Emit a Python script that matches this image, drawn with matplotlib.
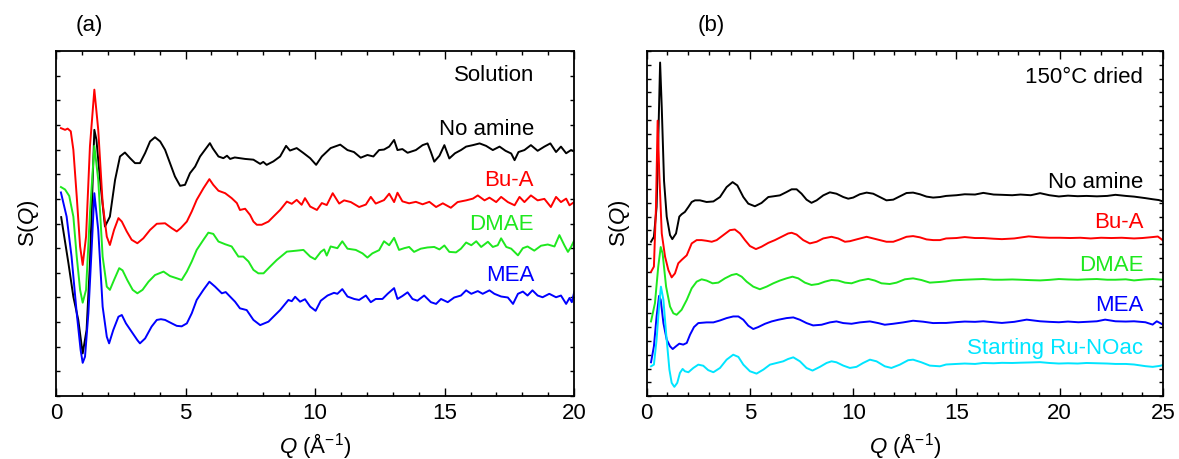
import matplotlib
matplotlib.use("Agg")
import matplotlib.pyplot as plt
from matplotlib.ticker import MultipleLocator, NullFormatter

plt.rcParams['font.family'] = ['Liberation Sans', 'DejaVu Sans']
plt.rcParams['mathtext.fontset'] = 'custom'
plt.rcParams['mathtext.rm'] = 'Liberation Sans'
plt.rcParams['mathtext.it'] = 'Liberation Sans:italic'

# ---------------- Panel (a): Solution ----------------
sol_noamine = [(0.2,7.26),(0.48,5.39),(0.67,4.03),(0.86,3.09),(1.03,1.73),(1.18,2.68),(1.31,5.39),(1.48,10.8),(1.56,10.4),(1.70,8.77),(1.89,6.88),(2.08,7.28),(2.28,8.77),(2.47,9.72),(2.66,9.88),(2.86,9.65),(3.05,9.45),(3.24,9.45),(3.44,9.86),(3.63,10.33),(3.82,10.5),(4.02,10.33),(4.21,9.99),(4.40,9.45),(4.59,8.91),(4.79,8.53),(4.98,8.57),(5.17,9.04),(5.37,9.31),(5.56,9.72),(5.75,9.99),(5.94,10.26),(6.05,10.05),(6.27,9.72),(6.46,9.65),(6.6,9.75),(6.72,9.62),(6.9,9.68),(7.1,9.65),(7.3,9.62),(7.62,9.59),(7.88,9.42),(8.0,9.50),(8.13,9.38),(8.39,9.52),(8.65,9.72),(8.88,10.15),(9.03,9.96),(9.29,10.06),(9.55,9.86),(9.81,9.65),(10.04,9.38),(10.26,9.72),(10.6,10.06),(10.97,10.2),(11.25,9.98),(11.5,9.9),(11.76,9.67),(12.02,9.78),(12.25,9.72),(12.47,9.98),(12.66,10.0),(12.86,10.12),(13.05,10.39),(13.18,9.98),(13.37,10.02),(13.57,9.87),(13.89,9.98),(14.15,10.18),(14.34,10.25),(14.47,9.9),(14.6,9.51),(14.8,9.75),(14.99,10.18),(15.18,9.64),(15.4,9.85),(15.63,9.98),(15.83,10.12),(16.09,10.18),(16.35,10.25),(16.6,10.15),(16.86,9.98),(17.12,10.12),(17.35,9.95),(17.57,9.84),(17.7,9.57),(17.85,9.9),(18.08,9.98),(18.33,10.18),(18.59,9.95),(18.85,10.12),(19.08,10.25),(19.3,9.9),(19.49,10.12),(19.69,9.85),(19.88,9.98),(20.0,9.92)]
sol_bua = [(0.19,10.87),(0.35,10.8),(0.45,10.85),(0.57,10.74),(0.67,9.99),(0.8,8.1),(0.93,6.07),(1.03,5.32),(1.16,6.47),(1.31,10.13),(1.48,12.43),(1.63,10.8),(1.8,7.83),(1.96,6.47),(2.08,6.13),(2.24,6.74),(2.41,7.22),(2.54,7.08),(2.73,6.68),(2.92,6.34),(3.14,6.2),(3.37,6.4),(3.63,6.74),(3.89,6.99),(4.21,7.01),(4.47,6.81),(4.66,6.68),(4.81,6.81),(5.05,7.08),(5.24,7.49),(5.43,7.96),(5.69,8.43),(5.92,8.8),(6.07,8.57),(6.27,8.33),(6.53,8.23),(6.78,8.03),(6.98,7.83),(7.1,7.55),(7.3,7.6),(7.49,7.35),(7.62,7.08),(7.75,6.95),(7.94,6.95),(8.2,7.08),(8.39,7.28),(8.65,7.55),(8.91,7.89),(9.1,7.8),(9.29,7.96),(9.48,7.76),(9.61,8.03),(9.81,7.69),(10.07,7.55),(10.26,7.83),(10.45,7.75),(10.68,8.23),(10.93,7.81),(11.12,7.94),(11.38,7.87),(11.7,7.67),(11.96,7.77),(12.15,8.08),(12.34,7.81),(12.66,7.95),(12.86,8.21),(13.05,7.87),(13.18,8.25),(13.37,7.9),(13.63,7.82),(13.89,7.88),(14.15,7.78),(14.41,7.88),(14.67,7.67),(14.93,7.82),(15.24,7.64),(15.5,7.87),(15.83,7.94),(16.09,8.01),(16.28,8.14),(16.54,7.94),(16.73,8.05),(16.99,7.87),(17.18,8.08),(17.44,7.87),(17.7,7.74),(17.89,8.08),(18.08,7.87),(18.33,8.14),(18.59,7.94),(18.85,8.0),(19.1,7.67),(19.3,8.08),(19.49,7.87),(19.69,8.01),(19.82,7.74),(20.0,7.87)]
sol_dmae = [(0.19,8.48),(0.35,8.38),(0.51,8.12),(0.67,7.28),(0.8,5.66),(0.93,4.31),(1.03,3.79),(1.16,4.31),(1.31,7.42),(1.48,10.15),(1.63,8.77),(1.8,5.66),(1.96,4.44),(2.08,4.31),(2.24,4.71),(2.44,5.19),(2.57,5.1),(2.75,4.71),(2.96,4.31),(3.14,4.17),(3.34,4.31),(3.57,4.64),(3.82,4.91),(4.15,5.05),(4.4,4.87),(4.66,4.78),(4.85,4.71),(5.05,5.05),(5.24,5.46),(5.43,5.93),(5.69,6.34),(5.88,6.63),(6.07,6.58),(6.27,6.27),(6.53,6.16),(6.78,6.07),(7.04,5.66),(7.23,5.66),(7.43,5.46),(7.62,5.12),(7.81,4.98),(8.01,4.98),(8.26,5.25),(8.52,5.52),(8.91,5.86),(9.29,5.9),(9.55,5.93),(9.81,5.66),(10.0,5.55),(10.22,5.85),(10.35,5.95),(10.45,5.7),(10.6,6.07),(10.86,6.0),(11.05,6.28),(11.25,5.98),(11.57,5.93),(11.83,5.79),(12.02,5.62),(12.21,5.79),(12.47,5.92),(12.66,6.28),(12.86,6.12),(13.05,6.42),(13.24,5.93),(13.44,6.0),(13.63,6.05),(13.82,5.85),(14.08,5.98),(14.34,6.03),(14.6,6.05),(14.8,5.95),(14.99,6.11),(15.18,5.85),(15.44,5.83),(15.63,5.98),(15.83,6.23),(16.03,6.12),(16.22,6.28),(16.41,6.05),(16.67,6.26),(16.86,6.05),(17.05,6.12),(17.18,6.4),(17.38,6.05),(17.57,5.98),(17.83,5.71),(18.02,6.0),(18.2,6.07),(18.46,5.9),(18.72,6.1),(18.98,6.15),(19.24,6.07),(19.43,6.53),(19.63,6.1),(19.76,5.85),(19.88,6.05),(20.0,6.31)]
sol_mea = [(0.19,8.26),(0.41,7.28),(0.6,5.66),(0.8,3.36),(0.95,1.87),(1.03,1.35),(1.12,1.6),(1.25,3.36),(1.38,6.07),(1.48,8.23),(1.63,6.74),(1.8,3.63),(1.96,2.41),(2.05,2.14),(2.21,2.68),(2.41,3.22),(2.54,3.29),(2.7,2.95),(2.92,2.61),(3.14,2.27),(3.24,2.14),(3.44,2.34),(3.69,2.82),(3.89,3.09),(4.05,3.12),(4.21,3.09),(4.47,2.95),(4.66,2.85),(4.85,2.83),(5.05,2.95),(5.24,3.36),(5.43,3.9),(5.69,4.31),(5.92,4.64),(6.14,4.44),(6.4,4.17),(6.55,4.22),(6.66,4.1),(6.91,3.83),(7.1,3.56),(7.36,3.49),(7.62,3.09),(7.88,2.88),(8.2,3.02),(8.39,3.22),(8.65,3.49),(8.97,3.9),(9.1,3.85),(9.23,4.03),(9.42,3.83),(9.61,3.93),(9.81,3.63),(10.02,3.46),(10.22,3.87),(10.48,4.08),(10.73,4.19),(10.86,4.15),(11.05,4.34),(11.25,4.04),(11.51,3.94),(11.7,3.9),(11.96,4.08),(12.15,3.81),(12.34,3.94),(12.6,3.94),(12.8,4.15),(13.05,4.38),(13.18,3.94),(13.37,4.06),(13.57,4.21),(13.76,3.94),(13.95,3.87),(14.21,4.08),(14.47,3.81),(14.67,3.74),(14.86,3.94),(15.12,3.81),(15.37,4.0),(15.63,4.08),(15.83,4.29),(16.03,4.15),(16.28,4.26),(16.47,4.15),(16.73,4.29),(16.92,4.15),(17.18,4.04),(17.44,4.0),(17.64,3.74),(17.83,4.15),(18.02,4.24),(18.2,4.08),(18.39,4.29),(18.59,4.08),(18.78,4.01),(19.04,4.15),(19.3,4.01),(19.49,4.08),(19.69,3.74),(19.82,3.98),(19.91,3.81),(20.0,4.21)]

# ---------------- Panel (b): 150 C dried ----------------
dry_noamine = [(0.21,11.18),(0.35,11.54),(0.48,13.7),(0.56,18.5),(0.65,24.16),(0.73,20.9),(0.84,15.6),(0.97,13.0),(1.13,11.66),(1.24,11.37),(1.42,11.78),(1.58,13.0),(1.69,13.17),(1.85,13.34),(2.02,13.7),(2.18,14.06),(2.34,14.18),(2.58,14.18),(2.9,14.06),(3.23,14.1),(3.55,14.42),(3.87,15.14),(4.16,15.5),(4.39,15.26),(4.68,14.42),(4.92,13.94),(5.24,13.75),(5.56,13.99),(5.89,14.42),(6.13,14.47),(6.45,14.54),(6.77,14.78),(7.02,14.98),(7.26,14.98),(7.5,14.66),(7.74,14.23),(7.98,14.0),(8.23,14.18),(8.55,14.54),(8.87,14.76),(9.19,14.66),(9.52,14.42),(9.76,14.3),(10.0,14.38),(10.32,14.62),(10.65,14.74),(10.97,14.66),(11.29,14.42),(11.61,14.18),(11.94,14.23),(12.26,14.47),(12.58,14.71),(12.9,14.74),(13.23,14.62),(13.55,14.45),(13.87,14.38),(14.2,14.42),(14.5,14.5),(15.0,14.55),(15.4,14.62),(15.9,14.6),(16.3,14.72),(16.8,14.6),(17.2,14.58),(17.7,14.55),(18.1,14.6),(18.6,14.55),(19.05,14.7),(19.5,14.55),(19.96,14.46),(20.4,14.52),(20.87,14.48),(21.3,14.5),(21.8,14.47),(22.3,14.5),(22.7,14.58),(23.2,14.5),(23.6,14.45),(24.15,14.34),(24.5,14.26),(24.8,14.2),(25.0,14.1)]
dry_bua = [(0.21,9.0),(0.35,9.38),(0.45,13.7),(0.53,19.95),(0.61,16.1),(0.73,11.78),(0.89,10.1),(1.05,9.13),(1.21,8.6),(1.37,8.89),(1.53,9.62),(1.69,9.86),(1.94,10.2),(2.18,11.06),(2.42,11.3),(2.66,11.3),(2.9,11.25),(3.15,11.18),(3.39,11.3),(3.71,11.66),(4.03,12.02),(4.27,12.07),(4.52,11.78),(4.76,11.3),(5.0,10.87),(5.29,10.65),(5.56,10.82),(5.89,11.1),(6.21,11.3),(6.53,11.54),(6.85,11.78),(7.02,11.83),(7.26,11.7),(7.58,11.3),(7.9,11.06),(8.23,11.18),(8.55,11.42),(8.95,11.54),(9.27,11.42),(9.6,11.18),(9.84,11.22),(10.16,11.35),(10.65,11.54),(10.97,11.42),(11.29,11.3),(11.61,11.18),(11.94,11.18),(12.26,11.35),(12.58,11.54),(12.9,11.59),(13.23,11.5),(13.55,11.35),(13.87,11.3),(14.2,11.3),(14.5,11.42),(15.0,11.45),(15.4,11.52),(15.9,11.45),(16.3,11.45),(16.8,11.4),(17.2,11.37),(17.8,11.42),(18.5,11.57),(19.05,11.5),(19.5,11.47),(20.0,11.47),(20.5,11.45),(21.0,11.47),(21.5,11.42),(22.0,11.47),(22.5,11.45),(23.0,11.47),(23.6,11.42),(24.0,11.45),(24.5,11.52),(24.75,11.56),(25.0,11.28)]
dry_dmae = [(0.21,5.41),(0.4,6.73),(0.56,9.38),(0.68,10.8),(0.77,10.34),(0.94,7.93),(1.13,6.49),(1.29,6.0),(1.45,5.89),(1.69,6.25),(1.94,6.97),(2.18,7.81),(2.42,8.29),(2.66,8.46),(2.9,8.37),(3.19,8.17),(3.47,8.22),(3.79,8.53),(4.11,8.77),(4.35,8.85),(4.6,8.65),(4.84,8.29),(5.16,7.93),(5.48,7.74),(5.81,7.93),(6.13,8.17),(6.45,8.37),(6.77,8.53),(7.06,8.65),(7.34,8.53),(7.66,8.22),(7.98,8.05),(8.31,8.12),(8.63,8.29),(8.95,8.41),(9.27,8.37),(9.6,8.22),(9.92,8.17),(10.32,8.37),(10.73,8.49),(11.05,8.37),(11.37,8.17),(11.77,8.12),(12.1,8.22),(12.5,8.46),(12.9,8.53),(13.3,8.41),(13.71,8.22),(14.2,8.27),(14.5,8.31),(14.8,8.38),(15.4,8.43),(15.9,8.46),(16.3,8.48),(16.8,8.43),(17.2,8.43),(17.7,8.45),(18.1,8.43),(18.6,8.4),(19.05,8.38),(19.5,8.42),(19.96,8.48),(20.4,8.45),(20.87,8.43),(21.3,8.46),(21.8,8.48),(22.3,8.43),(22.7,8.43),(23.2,8.46),(23.6,8.38),(24.1,8.45),(24.5,8.48),(25.0,8.43)]
dry_mea = [(0.21,2.45),(0.35,3.61),(0.48,5.77),(0.6,7.26),(0.68,6.97),(0.81,5.29),(0.97,4.09),(1.13,3.61),(1.26,3.41),(1.42,3.61),(1.58,3.8),(1.77,3.73),(1.94,3.85),(2.1,4.45),(2.29,5.0),(2.5,5.29),(2.9,5.34),(3.23,5.34),(3.55,5.48),(3.87,5.65),(4.19,5.77),(4.44,5.77),(4.68,5.53),(4.92,5.1),(5.16,4.86),(5.4,5.0),(5.73,5.24),(6.05,5.41),(6.37,5.53),(6.77,5.65),(7.1,5.7),(7.42,5.53),(7.74,5.29),(8.06,5.12),(8.47,5.17),(8.87,5.34),(9.19,5.41),(9.52,5.29),(9.92,5.24),(10.32,5.34),(10.81,5.41),(11.21,5.29),(11.53,5.17),(11.94,5.24),(12.42,5.34),(12.9,5.46),(13.39,5.39),(13.87,5.29),(14.2,5.3),(14.5,5.3),(15.0,5.36),(15.4,5.4),(15.9,5.38),(16.3,5.42),(16.8,5.35),(17.2,5.3),(17.8,5.38),(18.4,5.54),(19.05,5.42),(19.5,5.38),(19.96,5.35),(20.4,5.4),(20.9,5.35),(21.3,5.38),(21.8,5.42),(22.2,5.54),(22.7,5.42),(23.2,5.4),(23.6,5.42),(24.15,5.35),(24.5,5.18),(24.7,5.42),(25.0,5.18)]
dry_start = [(0.21,2.16),(0.35,2.28),(0.48,4.09),(0.61,6.73),(0.69,7.93),(0.81,6.97),(0.94,4.57),(1.1,1.92),(1.21,0.96),(1.34,0.67),(1.48,0.96),(1.61,1.68),(1.74,1.97),(1.85,1.8),(2.02,1.73),(2.26,2.04),(2.5,2.28),(2.74,2.2),(2.98,1.88),(3.23,1.73),(3.55,2.04),(3.87,2.64),(4.19,3.0),(4.44,2.84),(4.68,2.28),(5.0,1.8),(5.32,1.63),(5.65,1.92),(5.97,2.28),(6.29,2.4),(6.61,2.52),(6.85,2.69),(7.1,2.81),(7.42,2.52),(7.74,2.04),(8.03,1.85),(8.39,2.12),(8.71,2.4),(8.95,2.52),(9.19,2.45),(9.52,2.21),(9.84,2.04),(10.16,2.12),(10.48,2.4),(10.81,2.64),(11.13,2.52),(11.53,2.16),(11.85,2.04),(12.26,2.28),(12.66,2.6),(12.9,2.64),(13.3,2.45),(13.71,2.21),(14.2,2.16),(14.5,2.29),(15.0,2.33),(15.4,2.36),(15.9,2.33),(16.3,2.4),(16.8,2.38),(17.2,2.41),(17.7,2.4),(18.1,2.42),(18.6,2.44),(19.05,2.46),(19.5,2.4),(19.96,2.36),(20.4,2.38),(20.87,2.36),(21.3,2.4),(21.8,2.38),(22.3,2.36),(22.7,2.33),(23.2,2.33),(23.6,2.29),(24.15,2.17),(24.5,2.12),(24.8,2.18),(25.0,2.24)]

names_a = ["No amine", "Bu-A", "DMAE", "MEA"]
names_b = ["No amine", "Bu-A", "DMAE", "MEA", "Starting Ru-NOac"]
colors = ["black", "#ff0000", "#1ee81e", "#0000ff", "#00e5ff"]
label_y_a = [10.8, 8.74, 6.95, 4.9]
label_y_b = [15.5, 12.6, 9.45, 6.55, 3.45]

FS = 16

fig = plt.figure(figsize=(11.79, 4.59), dpi=100)
axa = fig.add_axes([0.0475, 0.137, 0.4395, 0.752])
axb = fig.add_axes([0.5485, 0.137, 0.4379, 0.752])

def style(ax, xmax, ymax):
    ax.set_xlim(0, xmax)
    ax.set_ylim(0, ymax)
    ax.xaxis.set_major_locator(MultipleLocator(5))
    ax.xaxis.set_minor_locator(MultipleLocator(1))
    ax.yaxis.set_major_locator(MultipleLocator(1))
    ax.yaxis.set_major_formatter(NullFormatter())
    ax.tick_params(which='both', direction='in', top=True, right=True, labelsize=FS, width=1.0)
    ax.tick_params(which='major', axis='x', length=6, pad=5)
    ax.tick_params(which='minor', axis='x', length=3)
    ax.tick_params(which='major', axis='y', length=3)
    for s in ax.spines.values():
        s.set_linewidth(1.3)
    ax.set_xlabel(r'$\it{Q}$ (Å$^{-1}$)', fontsize=FS, labelpad=5)
    ax.set_ylabel(r'S($\it{Q}$)', fontsize=FS, labelpad=7)

for data, c in zip([sol_noamine, sol_bua, sol_dmae, sol_mea], colors):
    q, s = zip(*data)
    axa.plot(q, s, color=c, lw=1.4)
style(axa, 20, 14)
axa.text(18.45, 13.0, "Solution", ha='right', va='center', fontsize=FS)
for n, c, y in zip(names_a, colors, label_y_a):
    axa.text(18.45, y, n, ha='right', va='center', fontsize=FS, color=c)

for data, c in zip([dry_noamine, dry_bua, dry_dmae, dry_mea, dry_start], colors):
    q, s = zip(*data)
    axb.plot(q, s, color=c, lw=1.4)
style(axb, 25, 25)
axb.text(24.05, 23.1, "150°C dried", ha='right', va='center', fontsize=FS)
for n, c, y in zip(names_b, colors, label_y_b):
    axb.text(24.05, y, n, ha='right', va='center', fontsize=FS, color=c)

fig.text(89/1179, 1 - 26/459, "(a)", ha='center', va='center', fontsize=FS)
fig.text(711/1179, 1 - 26/459, "(b)", ha='center', va='center', fontsize=FS)

fig.savefig("out.png", dpi=100)
